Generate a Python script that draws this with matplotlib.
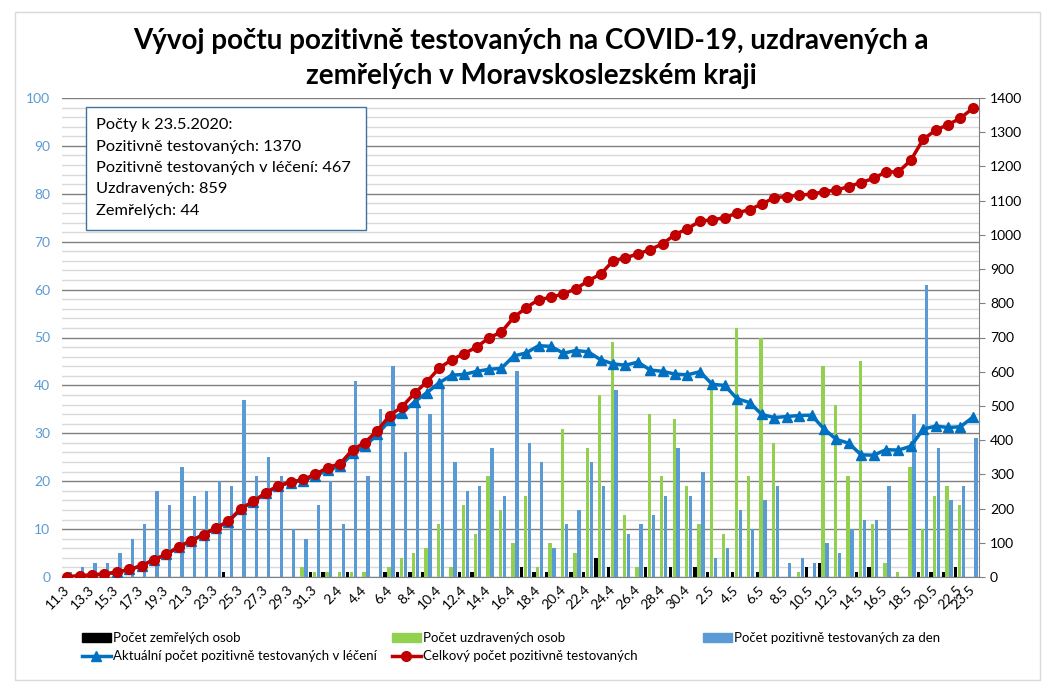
import numpy as np
import pandas as pd
import matplotlib
matplotlib.use("Agg")
import matplotlib.pyplot as plt
from matplotlib.patches import Rectangle, Patch
from matplotlib.lines import Line2D

plt.rcParams['font.family'] = ['Lato', 'DejaVu Sans']

# data (11.3. - 23.5.2020)
dates = pd.date_range("2020-03-11", "2020-05-23")
date_labels = [f"{d.day}.{d.month}" for d in dates]

new_positive = [1, 2, 3, 3, 5, 8, 11, 18, 15, 23, 17, 18, 20, 19, 37, 21, 25, 21, 10, 8, 15, 20, 11, 41, 21,
                35, 44, 26, 39, 34, 40, 24, 18, 19, 27, 17, 43, 28, 24, 6, 11, 14, 24, 19, 39, 9, 11, 13, 17, 27,
                17, 22, 4, 6, 14, 10, 16, 19, 3, 4, 3, 7, 5, 10, 12, 12, 19, 0, 34, 61, 27, 16, 19, 29]

recovered = [0, 0, 0, 0, 0, 0, 0, 0, 0, 0, 0, 0, 0, 0, 0, 0, 0, 0, 0, 2, 1, 1, 1, 1, 1,
             0, 2, 4, 5, 6, 11, 2, 15, 9, 21, 14, 7, 17, 2, 7, 31, 5, 27, 38, 49, 13, 2, 34, 21, 33,
             19, 11, 40, 9, 52, 21, 50, 28, 0, 1, 0, 44, 36, 21, 45, 11, 3, 1, 23, 10, 17, 19, 15, 0]

deaths = [0, 0, 0, 0, 0, 0, 0, 0, 0, 0, 0, 0, 0, 1, 0, 0, 0, 0, 0, 0, 1, 1, 0, 1, 0,
          0, 1, 1, 1, 1, 0, 0, 1, 1, 0, 0, 0, 2, 1, 1, 0, 1, 1, 4, 2, 0, 0, 2, 0, 2,
          0, 2, 1, 0, 1, 0, 1, 0, 0, 0, 2, 3, 0, 0, 1, 2, 0, 0, 0, 1, 1, 1, 2, 0]

total_positive = [1, 3, 6, 9, 14, 22, 33, 51, 66, 89, 106, 124, 144, 163, 200, 221, 246, 267, 277, 285, 300, 320, 331, 372, 393,
                  428, 472, 498, 537, 571, 611, 635, 653, 672, 699, 716, 759, 787, 811, 817, 828, 842, 866, 885, 924, 933, 944, 957, 974, 1001,
                  1018, 1040, 1044, 1050, 1064, 1074, 1090, 1109, 1112, 1116, 1119, 1126, 1131, 1141, 1153, 1165, 1184, 1184, 1218, 1279, 1306, 1322, 1341, 1370]

active = [1, 3, 6, 9, 14, 22, 33, 51, 66, 89, 106, 124, 144, 162, 199, 220, 245, 266, 276, 282, 295, 313, 323, 362, 382,
          417, 458, 479, 512, 539, 568, 590, 592, 601, 607, 610, 646, 655, 676, 674, 654, 662, 658, 635, 623, 619, 628, 605, 601, 593,
          591, 600, 563, 560, 521, 510, 475, 466, 469, 472, 473, 433, 402, 391, 357, 356, 372, 371, 382, 432, 441, 437, 439, 467]

summary_lines = ["Počty k 23.5.2020:",
                 "Pozitivně testovaných: 1370",
                 "Pozitivně testovaných v léčení: 467",
                 "Uzdravených: 859",
                 "Zemřelých: 44"]

C_BLACK = "#000000"
C_GREEN = "#92D050"
C_BLUEBAR = "#5B9BD5"
C_BLUELINE = "#0070C0"
C_RED = "#C00000"

x = np.arange(len(dates))

fig = plt.figure(figsize=(10.5, 6.89), dpi=100)
ax = fig.add_axes([62 / 1050, 1 - 577 / 689, (979 - 62) / 1050, (577 - 98) / 689])

# outer chart frame
fig.patches.append(Rectangle((15 / 1050, 1 - 680 / 689), 1025 / 1050, 668 / 689,
                             transform=fig.transFigure, fill=False, edgecolor="#D9D9D9", lw=1))

w = 0.27
ax.bar(x - 0.38, deaths, width=w, color=C_BLACK, zorder=3)
ax.bar(x - 0.07, recovered, width=w, color=C_GREEN, zorder=3)
ax.bar(x + 0.25, new_positive, width=w, color=C_BLUEBAR, zorder=3)

ax.set_ylim(0, 100)
ax.set_yticks(np.arange(0, 101, 10))
ax.set_yticks(np.arange(0, 101, 2), minor=True)
ax.grid(axis="y", which="minor", color="#D9D9D9", lw=1, zorder=0)
ax.grid(axis="y", which="major", color="#808080", lw=1, zorder=1)
ax.tick_params(axis="y", which="both", length=0, labelcolor=C_BLUEBAR, labelsize=10, pad=8.5)
ax.set_xlim(-0.42, 73.5)

tick_idx = list(range(0, len(x), 2)) + [len(x) - 1]
ax.set_xticks(tick_idx)
ax.set_xticklabels([date_labels[i] for i in tick_idx], rotation=45, ha="right",
                   va="center", rotation_mode="anchor", fontsize=10)
ax.tick_params(axis="x", length=0, pad=8)

for s in ["left", "top", "right"]:
    ax.spines[s].set_visible(False)
ax.spines["bottom"].set_color("#808080")

ax2 = ax.twinx()
ax2.plot(x, active, color=C_BLUELINE, lw=2.5, marker="^", ms=7, zorder=4)
ax2.plot(x, total_positive, color=C_RED, lw=2.5, marker="o", ms=7, zorder=5)
ax2.set_ylim(0, 1400)
ax2.set_yticks(np.arange(0, 1401, 100))
ax2.tick_params(axis="y", length=4, color="#808080", labelsize=10, pad=4)
for s in ["left", "top", "bottom"]:
    ax2.spines[s].set_visible(False)
ax2.spines["right"].set_color("#808080")

# title
fig.text(531 / 1050, 1 - 41 / 689, "Vývoj počtu pozitivně testovaných na COVID-19, uzdravených a",
         ha="center", va="center", fontsize=20, fontweight="bold")
fig.text(531 / 1050, 1 - 76 / 689, "zemřelých v Moravskoslezském kraji",
         ha="center", va="center", fontsize=20, fontweight="bold")

# summary box
fig.patches.append(Rectangle((86 / 1050, 1 - 230 / 689), 280 / 1050, 123 / 689,
                             transform=fig.transFigure, facecolor="white", edgecolor="#41719C",
                             lw=1, zorder=10))
for k, line in enumerate(summary_lines):
    fig.text(96 / 1050, 1 - (125 + 21.5 * k) / 689, line, ha="left", va="center",
             fontsize=11.8, zorder=11)

# legend: three columns placed like in the reference
legend_cols = [
    ([Patch(color=C_BLACK), Line2D([], [], color=C_BLUELINE, lw=2.5, marker="^", ms=7)],
     ["Počet zemřelých osob", "Aktuální počet pozitivně testovaných v léčení"], 77),
    ([Patch(color=C_GREEN), Line2D([], [], color=C_RED, lw=2.5, marker="o", ms=7)],
     ["Počet uzdravených osob", "Celkový počet pozitivně testovaných"], 387),
    ([Patch(color=C_BLUEBAR)], ["Počet pozitivně testovaných za den"], 698),
]
for hs, ls, xpos in legend_cols:
    fig.legend(hs, ls, loc="upper left", bbox_to_anchor=(xpos / 1050, 1 - 627 / 689),
               frameon=False, fontsize=9.5, handlelength=2.15, handletextpad=0.2,
               labelspacing=0.45, borderaxespad=0)

fig.savefig("out.png", dpi=100)
